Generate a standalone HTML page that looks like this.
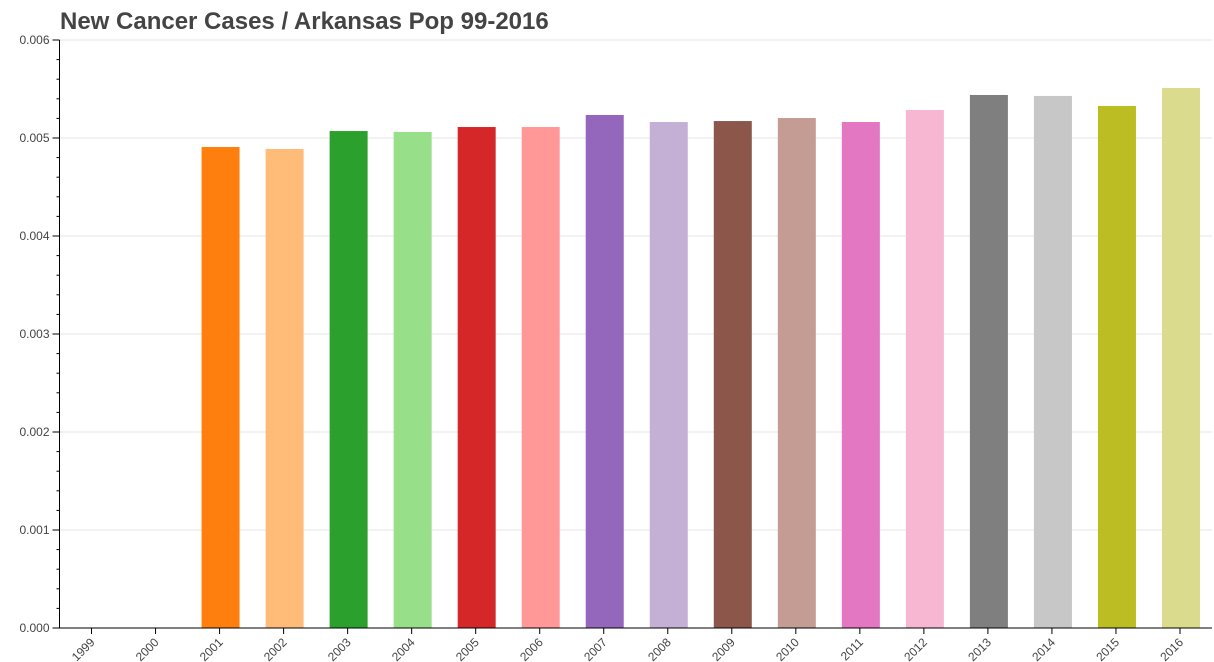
<!DOCTYPE html>
<html><head><meta charset="utf-8"><style>
body{margin:0;background:#fff;}
svg{display:block;font-family:"Liberation Sans",sans-serif;}
</style></head><body>
<svg id="chart" width="1214" height="662" viewBox="0 0 1214 662">
<text x="60" y="29" font-size="24" font-weight="bold" fill="#444">New Cancer Cases / Arkansas Pop 99-2016</text>
<g id="grid"></g><g id="bars"></g><g id="axes"></g>
</svg>
<script>
const categories=["1999","2000","2001","2002","2003","2004","2005","2006","2007","2008","2009","2010","2011","2012","2013","2014","2015","2016"];
const values=[0,0,0.004908,0.004888,0.005071,0.005061,0.005112,0.005112,0.005235,0.005163,0.005173,0.005204,0.005163,0.005286,0.005439,0.005429,0.005327,0.00551];
const colors=["#1f77b4","#aec7e8","#ff7f0e","#ffbb78","#2ca02c","#98df8a","#d62728","#ff9896","#9467bd","#c5b0d5","#8c564b","#c49c94","#e377c2","#f7b6d2","#7f7f7f","#c7c7c7","#bcbd22","#dbdb8d"];
const yTicks=[0,0.001,0.002,0.003,0.004,0.005,0.006];
const yTickLabels=["0.000","0.001","0.002","0.003","0.004","0.005","0.006"];
const NS="http://www.w3.org/2000/svg";
const L=59.5,R=1212,T=40,B=628,band=(R-L)/categories.length;
const y=v=>B-(v/0.006)*(B-T);
const x=i=>L+band*i+band/2;
function mk(tag,attrs,parent){const e=document.createElementNS(NS,tag);for(const k in attrs)e.setAttribute(k,attrs[k]);parent.appendChild(e);return e;}
const grid=document.getElementById('grid'),bars=document.getElementById('bars'),axes=document.getElementById('axes');
yTicks.forEach((t,i)=>{
 if(i>0){const g=mk('line',{x1:L,x2:R,y1:y(t),y2:y(t),stroke:'#e5e5e5'},grid);
 
 }
 const tk=mk('line',{x1:L-7,x2:L,y1:y(t),y2:y(t),stroke:'#000'},axes);
 
 
 const lb=mk('text',{x:L-10,y:y(t)+4,'text-anchor':'end','font-size':12,fill:'#444'},axes);
 lb.textContent=yTickLabels[i];
 
 
 if(i<yTicks.length-1){for(let m=1;m<5;m++){const v=t+m*0.0002;const mt=mk('line',{x1:L-3,x2:L,y1:y(v),y2:y(v),stroke:'#000'},axes);
 
 }}
});
categories.forEach((c,i)=>{
 if(values[i]>0){const r=mk('rect',{x:x(i)-18,y:y(values[i]),width:38,height:B-y(values[i]),fill:colors[i]},bars);
 
 }
 const tk=mk('line',{x1:x(i),x2:x(i),y1:B,y2:B+6,stroke:'#000'},axes);
 
 
 const lb=mk('text',{x:x(i)+4,y:B+15,'text-anchor':'end','font-size':12,fill:'#444',transform:`rotate(-45 ${x(i)+4} ${B+15})`},axes);
 lb.textContent=c;
 
 
});
const ya=mk('line',{x1:L,x2:L,y1:T,y2:B,stroke:'#000'},axes);


const xa=mk('line',{x1:L,x2:R,y1:B,y2:B,stroke:'#000'},axes);


</script>
</body></html>
